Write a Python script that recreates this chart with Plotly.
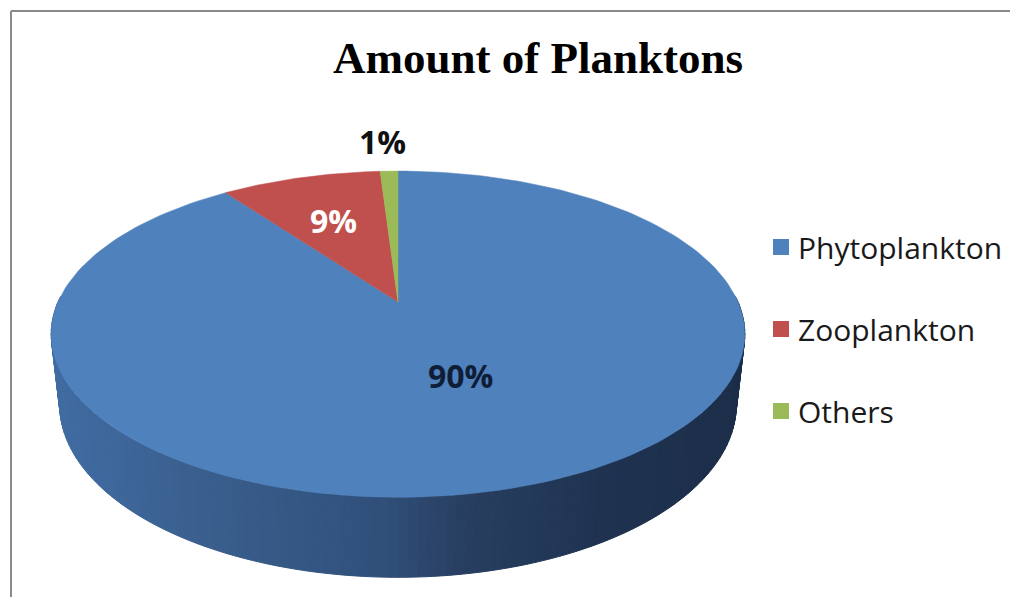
import numpy as np
import plotly.graph_objects as go

# ---------------- data ----------------
categories = ["Phytoplankton", "Zooplankton", "Others"]
values = [90, 9, 1]
colors_top = ["#4F81BD", "#C0504D", "#9BBB59"]
title_text = "Amount of Planktons"

# ---------------- style / geometry ----------------
W, H = 1010, 597
CX, CY = 398, 302          # projected centre of the pie (pixels)
F = 1530.0                 # focal length
DIST = 4.5                 # camera distance
PHI = np.arcsin(0.461)     # tilt
DEPTH = 0.235              # pie thickness (in radius units)
SIN, COS = np.sin(PHI), np.cos(PHI)

side_stops = [(50, "#406CA3"), (200, "#3A5F8E"), (380, "#30507A"),
              (460, "#283F61"), (600, "#1F3351"), (745, "#1B2D48")]


def proj(X, Y, Z):
    d = DIST + Y * COS - Z * SIN
    up = Y * SIN + Z * COS
    return CX + F * X / d, CY - F * up / d


def hex2rgb(h):
    h = h.lstrip("#")
    return np.array([int(h[i:i + 2], 16) for i in (0, 2, 4)], dtype=float)


def side_color(x):
    xs = [s[0] for s in side_stops]
    cols = np.array([hex2rgb(s[1]) for s in side_stops])
    c = [np.interp(x, xs, cols[:, k]) for k in range(3)]
    return "rgb(%d,%d,%d)" % tuple(int(round(v)) for v in c)


fig = go.Figure()

# ---------------- side of the cylinder (front) ----------------
total = float(sum(values))
angles = np.cumsum([0] + values) / total * 360.0  # clockwise from 12 o'clock
nstrip = 140
th = np.linspace(88, 272, nstrip + 1)
for i in range(nstrip):
    a0, a1 = np.radians(th[i]), np.radians(th[i + 1])
    pts = [proj(np.sin(a0), np.cos(a0), 0), proj(np.sin(a1), np.cos(a1), 0),
           proj(np.sin(a1), np.cos(a1), -DEPTH), proj(np.sin(a0), np.cos(a0), -DEPTH)]
    xs = [p[0] for p in pts] + [pts[0][0]]
    ys = [p[1] for p in pts] + [pts[0][1]]
    col = side_color(np.mean(xs[:4]))
    fig.add_trace(go.Scatter(x=xs, y=ys, mode="lines", fill="toself",
                             fillcolor=col, line=dict(color=col, width=1),
                             hoverinfo="skip", showlegend=False))

# ---------------- top face wedges ----------------
for i, cat in enumerate(categories):
    a = np.radians(np.linspace(angles[i], angles[i + 1], 200))
    px, py = proj(np.sin(a), np.cos(a), 0 * a)
    cx0, cy0 = proj(0, 0, 0)
    xs = [cx0] + list(px) + [cx0]
    ys = [cy0] + list(py) + [cy0]
    fig.add_trace(go.Scatter(x=xs, y=ys, mode="lines", fill="toself",
                             fillcolor=colors_top[i],
                             line=dict(color=colors_top[i], width=0.5),
                             name=cat, hoverinfo="name", showlegend=False))

# ---------------- data labels ----------------
label_r = [0.47, 0.62, 1.28]
label_col = ["#0F1E36", "#FFFFFF", "#111111"]
label_dx = [8, 0, -5]
label_dy = [-3, 0, 0]
for i, v in enumerate(values):
    mid = np.radians((angles[i] + angles[i + 1]) / 2)
    r = label_r[i]
    lx, ly = proj(r * np.sin(mid), r * np.cos(mid), 0)
    fig.add_annotation(x=lx + label_dx[i], y=ly + label_dy[i],
                       text="<b>%d%%</b>" % round(v / total * 100),
                       showarrow=False, xanchor="center", yanchor="middle",
                       font=dict(family="Open Sans", size=32, color=label_col[i]))

# ---------------- legend ----------------
LEG_X, LEG_Y, LEG_GAP = 781, 247, 82
for i, cat in enumerate(categories):
    yy = LEG_Y + i * LEG_GAP
    fig.add_trace(go.Scatter(x=[LEG_X], y=[yy], mode="markers",
                             marker=dict(symbol="square", size=16, color=colors_top[i]),
                             hoverinfo="skip", showlegend=False))
    fig.add_annotation(x=LEG_X + 15, y=yy, text=cat, showarrow=False,
                       xanchor="left", yanchor="middle",
                       font=dict(family="Open Sans", size=30, color="#1A1A1A"))

# ---------------- title ----------------
fig.add_annotation(x=538, y=58, text="<b>%s</b>" % title_text, showarrow=False,
                   xanchor="center", yanchor="middle",
                   font=dict(family="Liberation Serif", size=45, color="#000000"))

# ---------------- frame lines ----------------
fig.add_shape(type="line", x0=11, x1=W, y0=11, y1=11, line=dict(color="#8A8A8A", width=2))
fig.add_shape(type="line", x0=11, x1=11, y0=11, y1=H, line=dict(color="#8A8A8A", width=2))

fig.update_layout(
    width=W, height=H, margin=dict(l=0, r=0, t=0, b=0),
    paper_bgcolor="white", plot_bgcolor="white",
    xaxis=dict(range=[0, W], visible=False, fixedrange=True),
    yaxis=dict(range=[H, 0], visible=False, fixedrange=True),
    showlegend=False,
)

fig.write_html("out.html")
